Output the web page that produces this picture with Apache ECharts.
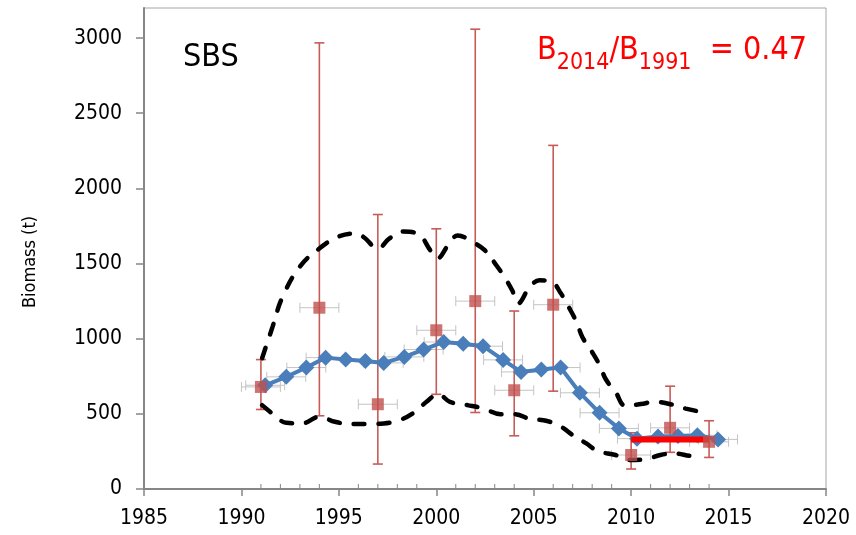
<!DOCTYPE html>
<html>
<head>
<meta charset="utf-8">
<script src="https://cdn.jsdelivr.net/npm/echarts@6/dist/echarts.min.js"></script>
<style>html,body{margin:0;padding:0;background:#fff}#c{width:856px;height:535px}</style>
</head>
<body>
<div id="c"></div>
<script>
// ---- data ----
const blueYears = [1991.22,1992.3,1993.33,1994.32,1995.35,1996.36,1997.3,1998.36,1999.35,2000.38,2001.38,2002.4,2003.43,2004.35,2005.39,2006.38,2007.37,2008.38,2009.37,2010.3,2011.38,2012.4,2013.4,2014.46];
const blueValues = [690,746,808,874,861,852,839,879,928,978,967,950,859,779,795,808,640,507,403,335,350,352,358,330];
const blueXErr = 1;

const redYears  = [1991,1994,1997,2000,2002,2004,2006,2010,2012,2014];
const redValues = [679,1206,564,1056,1250,657,1226,226,407,314];
const redLow    = [529,487,166,630,509,354,651,133,244,210];
const redHigh   = [861,2968,1826,1731,3059,1184,2286,374,684,454];
const redXErr = 1;

const upperYears  = [1991.06,1991.6,1992.1,1993.0,1994.0,1995.0,1995.9,1996.3,1997.0,1997.6,1998.3,1999.1,1999.7,2000.05,2000.6,2001.1,2001.9,2002.5,2003.1,2003.5,2003.9,2004.2,2004.8,2005.3,2005.9,2006.4,2006.8,2007.2,2007.5,2008.0,2008.4,2008.7,2009.2,2009.7,2010.5,2011.2,2012.1,2012.8,2013.8];
const upperValues = [870,1080,1275,1480,1600,1680,1700,1673,1600,1667,1713,1693,1587,1534,1620,1687,1640,1587,1485,1410,1320,1235,1345,1388,1380,1300,1210,1110,1010,910,820,730,645,555,565,580,562,535,507];

const lowerYears  = [1991.06,1991.7,1992.3,1993.1,1994.0,1994.8,1995.6,1996.4,1997.3,1998.1,1998.8,1999.5,2000.1,2000.7,2001.6,2002.4,2003.3,2004.0,2004.9,2005.5,2006.4,2007.0,2007.7,2008.3,2009.2,2009.9,2010.7,2011.5,2012.2,2013.2,2013.6];
const lowerValues = [558,491,440,436,480,447,432,432,436,458,503,580,631,580,558,536,498,498,463,458,414,359,303,252,226,193,197,226,237,219,222];

const ratioYears = [2010, 2014];
const ratioValue = 330;

const xTicks = [1985,1990,1995,2000,2005,2010,2015,2020];
const xMinorTicks = [1991,1992,1993,1994,1996,1997,1998,1999,2001,2002,2003,2004,2006,2007,2008,2009,2011,2012,2013,2014];
const yTicks = [0,500,1000,1500,2000,2500,3000];

const titleText = 'SBS';
const yName = 'Biomass (t)';
const ratioParts = [['B', false], ['2014', true], ['/B', false], ['1991', true], ['  = 0.47', false]];

// ---- chart ----
const FONT = "'Liberation Sans Narrow','DejaVu Sans Condensed',sans-serif";
const chart = echarts.init(document.getElementById('c'), null, {renderer:'canvas'});

function vErrItem(params, api){
  const x = api.value(0), lo = api.value(1), hi = api.value(2);
  const p1 = api.coord([x, lo]), p2 = api.coord([x, hi]);
  const st = {stroke:'#c75b58', lineWidth:1.6};
  return {type:'group', children:[
    {type:'line', shape:{x1:p1[0],y1:p1[1],x2:p2[0],y2:p2[1]}, style:st},
    {type:'line', shape:{x1:p1[0]-5,y1:p1[1],x2:p1[0]+5,y2:p1[1]}, style:st},
    {type:'line', shape:{x1:p2[0]-5,y1:p2[1],x2:p2[0]+5,y2:p2[1]}, style:st}
  ]};
}
function hErrItem(params, api){
  const lo = api.value(0), hi = api.value(1), y = api.value(2);
  const p1 = api.coord([lo, y]), p2 = api.coord([hi, y]);
  const st = {stroke:'#c4c4c4', lineWidth:1};
  return {type:'group', children:[
    {type:'line', shape:{x1:p1[0],y1:p1[1],x2:p2[0],y2:p2[1]}, style:st},
    {type:'line', shape:{x1:p1[0],y1:p1[1]-5,x2:p1[0],y2:p1[1]+5}, style:st},
    {type:'line', shape:{x1:p2[0],y1:p2[1]-5,x2:p2[0],y2:p2[1]+5}, style:st}
  ]};
}
function minorTickItem(params, api){
  const p = api.coord([api.value(0), 0]);
  return {type:'line', shape:{x1:p[0], y1:p[1]-5, x2:p[0], y2:p[1]}, style:{stroke:'#868686', lineWidth:1}};
}

const hErrData = blueYears.map((x,i)=>[x-blueXErr, x+blueXErr, blueValues[i]])
  .concat(redYears.map((x,i)=>[x-redXErr, x+redXErr, redValues[i]]));
const vErrData = redYears.map((x,i)=>[x, redLow[i], redHigh[i]]);
const dashStyle = {color:'#000', width:4.5, type:[11,14], cap:'round'};

// ratio text, laid out piece by piece with measured widths
const BIG = 32, SMALL = 23;
const mctx = document.createElement('canvas').getContext('2d');
let tx = 537;
const ratioGraphics = ratioParts.map(([t, sub]) => {
  const fs = sub ? SMALL : BIG;
  mctx.font = fs + 'px ' + FONT;
  const el = {type:'text', x:tx, y: sub ? 52 : 35, style:{text:t, fontSize:fs, fontFamily:FONT, fill:'#ff0000'}};
  tx += mctx.measureText(t).width;
  return el;
});

chart.setOption({
  animation:false,
  grid:{left:144, right:30, top:8, bottom:46, show:true, borderColor:'#a6a6a6', borderWidth:1},
  xAxis:{
    type:'value', min:1985, max:2020, interval:5,
    axisLine:{lineStyle:{color:'#868686', width:2}},
    axisTick:{length:7, lineStyle:{color:'#868686', width:1.5}, customValues:xTicks},
    axisLabel:{customValues:xTicks, formatter:v=>String(v), margin:19, color:'#000', fontSize:21, fontFamily:FONT},
    splitLine:{show:false}
  },
  yAxis:{
    type:'value', min:0, max:3200, interval:500,
    axisLine:{show:true, lineStyle:{color:'#868686', width:2}},
    axisTick:{show:true, length:8, customValues:yTicks, lineStyle:{color:'#868686', width:1.5}},
    axisLabel:{customValues:yTicks, formatter:v=>String(v), margin:22, color:'#000', fontSize:21, fontFamily:FONT},
    splitLine:{show:false}
  },
  graphic:[
    {type:'text', left:183, top:42, style:{text:titleText, fontSize:32, fontFamily:FONT, fill:'#000'}},
    {type:'text', rotation:Math.PI/2, x:30, y:262, style:{text:yName, fontSize:18, fontFamily:FONT, fill:'#000', align:'center', verticalAlign:'middle'}}
  ].concat(ratioGraphics),
  series:[
    {type:'custom', name:'minor', renderItem:minorTickItem, data:xMinorTicks.map(x=>[x]), encode:{x:0}, clip:false, z:1, silent:true},
    {type:'custom', name:'xerr', renderItem:hErrItem, data:hErrData, encode:{x:[0,1], y:2}, clip:false, z:1, silent:true},
    {type:'custom', name:'yerr', renderItem:vErrItem, data:vErrData, encode:{x:0, y:[1,2]}, clip:false, z:2, silent:true},
    {type:'line', name:'upper', data:upperYears.map((x,i)=>[x, upperValues[i]]), smooth:0.4, symbol:'none', lineStyle:dashStyle, z:3},
    {type:'line', name:'lower', data:lowerYears.map((x,i)=>[x, lowerValues[i]]), smooth:0.4, symbol:'none', lineStyle:dashStyle, z:3},
    {type:'line', name:'model', data:blueYears.map((x,i)=>[x, blueValues[i]]), symbol:'diamond', symbolSize:16,
      itemStyle:{color:'#4a7ebb'}, lineStyle:{color:'#4a7ebb', width:4}, z:4},
    {type:'line', name:'ratio', data:ratioYears.map(x=>[x, ratioValue]), symbol:'none', lineStyle:{color:'#ff0000', width:6}, z:5},
    {type:'scatter', name:'survey', data:redYears.map((x,i)=>[x, redValues[i]]), symbol:'rect', symbolSize:12,
      itemStyle:{color:'#c0504d'}, z:6}
  ]
});
</script>
</body>
</html>
